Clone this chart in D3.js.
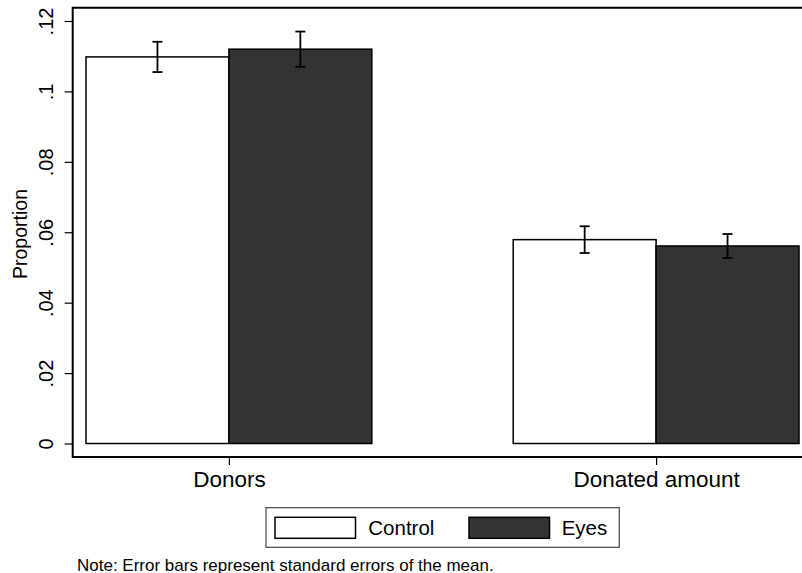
<!DOCTYPE html>
<html>
<head>
<meta charset="utf-8">
<script src="https://cdn.jsdelivr.net/npm/d3@7"></script>
<style>
  html, body { margin: 0; padding: 0; background: #fff; }
  svg { display: block; font-family: "Liberation Sans", Arial, Helvetica, sans-serif; }
</style>
</head>
<body>
<svg id="chart" width="802" height="573"></svg>
<script>
// Outcome categories and treatment groups
const categories = ["Donors", "Donated amount"];
const groups = ["Control", "Eyes"];

// Mean proportions by group (one value per category)
const controlMeans = [0.1098, 0.0579];
const eyesMeans = [0.1120, 0.0561];

// Standard errors of the mean
const controlSE = [0.0043, 0.0038];
const eyesSE = [0.0050, 0.0034];

// Y axis ticks and their labels
const yTicks = [0, 0.02, 0.04, 0.06, 0.08, 0.10, 0.12];
const yTickLabels = ["0", ".02", ".04", ".06", ".08", ".1", ".12"];

const fills = { Control: "#ffffff", Eyes: "#333333" };

const rows = categories.map((c, i) => ({
  category: c,
  bars: [
    { group: "Control", mean: controlMeans[i], se: controlSE[i] },
    { group: "Eyes", mean: eyesMeans[i], se: eyesSE[i] }
  ]
}));

const svg = d3.select("#chart");

const frame = { left: 72.7, top: 7.7, bottom: 457, right: 812 };

const y = d3.scaleLinear().domain([0, 0.12]).range([443.5, 21]);

const x = d3.scaleBand()
  .domain(categories)
  .range([86, 799])
  .paddingInner(0.331)
  .paddingOuter(0);

const xInner = d3.scaleBand()
  .domain(groups)
  .range([0, x.bandwidth()])
  .padding(0);

// Bars
const cat = svg.append("g").selectAll("g")
  .data(rows)
  .join("g")
  .attr("transform", d => `translate(${x(d.category)},0)`);

cat.selectAll("rect")
  .data(d => d.bars)
  .join("rect")
  .attr("x", d => xInner(d.group))
  .attr("y", d => y(d.mean))
  .attr("width", xInner.bandwidth())
  .attr("height", d => y(0) - y(d.mean))
  .attr("fill", d => fills[d.group])
  .attr("stroke", "#000")
  .attr("stroke-width", 1.5);

// Error bars (mean ± SE)
const capHalf = 5;
const eb = cat.selectAll("g.err")
  .data(d => d.bars)
  .join("g")
  .attr("class", "err")
  .attr("stroke", "#000")
  .attr("stroke-width", 1.8);

eb.append("line")
  .attr("x1", d => xInner(d.group) + xInner.bandwidth() / 2)
  .attr("x2", d => xInner(d.group) + xInner.bandwidth() / 2)
  .attr("y1", d => y(d.mean - d.se))
  .attr("y2", d => y(d.mean + d.se));
eb.append("line")
  .attr("x1", d => xInner(d.group) + xInner.bandwidth() / 2 - capHalf)
  .attr("x2", d => xInner(d.group) + xInner.bandwidth() / 2 + capHalf)
  .attr("y1", d => y(d.mean + d.se))
  .attr("y2", d => y(d.mean + d.se));
eb.append("line")
  .attr("x1", d => xInner(d.group) + xInner.bandwidth() / 2 - capHalf)
  .attr("x2", d => xInner(d.group) + xInner.bandwidth() / 2 + capHalf)
  .attr("y1", d => y(d.mean - d.se))
  .attr("y2", d => y(d.mean - d.se));

// Plot frame (open on the right, where the graph region runs off the page)
svg.append("path")
  .attr("d", `M${frame.right},${frame.top}H${frame.left}V${frame.bottom}H${frame.right}`)
  .attr("fill", "none")
  .attr("stroke", "#000")
  .attr("stroke-width", 2);

// Y axis
const yAxis = svg.append("g")
  .attr("transform", `translate(${frame.left},0)`)
  .call(d3.axisLeft(y)
    .tickValues(yTicks)
    .tickFormat((d, i) => yTickLabels[i])
    .tickSize(8)
    .tickSizeOuter(0));
yAxis.select(".domain").remove();
yAxis.selectAll(".tick line").attr("stroke", "#000").attr("stroke-width", 1.2);
yAxis.selectAll(".tick text")
  .attr("x", null).attr("dy", null)
  .attr("text-anchor", "middle")
  .attr("transform", "translate(-19.2,0) rotate(-90)")
  .attr("fill", "#000")
  .style("font-size", "20px")
  .style("font-family", "Liberation Sans, Arial, sans-serif");

// Y axis title
svg.append("text")
  .attr("transform", `translate(27.3,${(186 + 282) / 2}) rotate(-90)`)
  .attr("text-anchor", "middle")
  .style("font-size", "19.5px")
  .text("Proportion");

// X axis: ticks at the centre of each category
const xCenter = d3.scalePoint().domain(categories)
  .range([x(categories[0]) + x.bandwidth() / 2, x(categories[1]) + x.bandwidth() / 2]);
const xAxis = svg.append("g")
  .attr("transform", `translate(0,${frame.bottom})`)
  .call(d3.axisBottom(xCenter).tickSize(8).tickSizeOuter(0));
xAxis.select(".domain").remove();
xAxis.selectAll(".tick line").attr("stroke", "#000").attr("stroke-width", 1.2);
xAxis.selectAll(".tick text")
  .attr("y", 29.5).attr("dy", null)
  .attr("fill", "#000")
  .style("font-size", "22.5px")
  .style("font-family", "Liberation Sans, Arial, sans-serif");

// Legend
const legend = svg.append("g");
legend.append("rect")
  .attr("x", 266).attr("y", 507.7)
  .attr("width", 353.3).attr("height", 39.6)
  .attr("fill", "#fff")
  .attr("stroke", "#444")
  .attr("stroke-width", 1.2);

const legendItems = [
  { group: "Control", sx: 275, tx: 368.3 },
  { group: "Eyes", sx: 469, tx: 561.7 }
];
legend.selectAll("rect.sw")
  .data(legendItems)
  .join("rect")
  .attr("class", "sw")
  .attr("x", d => d.sx).attr("y", 517.3)
  .attr("width", 80.5).attr("height", 21)
  .attr("fill", d => fills[d.group])
  .attr("stroke", "#000")
  .attr("stroke-width", 1.5);
legend.selectAll("text")
  .data(legendItems)
  .join("text")
  .attr("x", d => d.tx).attr("y", 535)
  .style("font-size", "20.5px")
  .text(d => d.group);

// Note
svg.append("text")
  .attr("x", 77).attr("y", 570.5)
  .style("font-size", "17px")
  .text("Note: Error bars represent standard errors of the mean.");
</script>
</body>
</html>
